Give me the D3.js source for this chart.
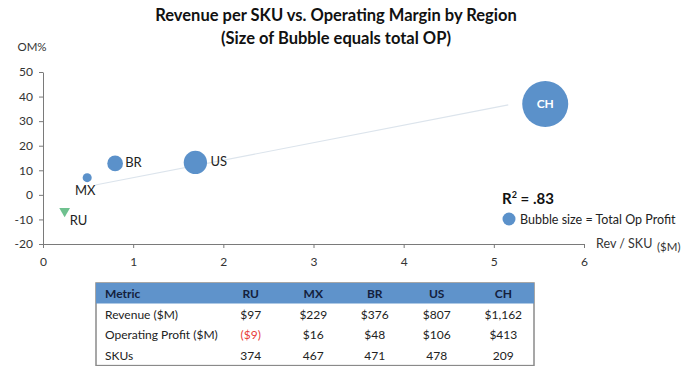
<!DOCTYPE html>
<html>
<head>
<meta charset="utf-8">
<script src="https://cdn.jsdelivr.net/npm/d3@7"></script>
<style>
  body { margin: 0; background: #fff; }
  svg { font-family: Lato, 'Open Sans', sans-serif; }
  .axis { font-family: Lato, 'Open Sans', sans-serif; }
  .axis path, .axis line { stroke: #7a7a7a; }
  .axis text { fill: #333; font-size: 12px; }
</style>
</head>
<body>
<div id="chart"></div>
<script>
// regions and table values
const regions = ['RU', 'MX', 'BR', 'US', 'CH'];
const revenue = [97, 229, 376, 807, 1162];
const opProfit = [-9, 16, 48, 106, 413];
const skus = [374, 467, 471, 478, 209];
// plotted values
const revPerSku = [0.24, 0.49, 0.8, 1.69, 5.57];
const omPct = [-7, 7, 12.8, 13.2, 37];
// trend line end points
const trendX = [0.58, 5.16];
const trendY = [4.0, 36.6];
const xTicks = [0, 1, 2, 3, 4, 5, 6];
const yTicks = [-20, -10, 0, 10, 20, 30, 40, 50];

const W = 700, H = 366;
const blue = '#5b91ca';
const green = '#6fc18f';

const svg = d3.select('#chart').append('svg')
  .attr('width', W).attr('height', H);

// scales
const x = d3.scaleLinear().domain([0, 6]).range([43, 584]);
const y = d3.scaleLinear().domain([-20, 50]).range([244, 72]);
const r = d3.scaleSqrt().domain([0, 413]).range([0, 23]);

// title
svg.append('text')
  .attr('x', 336).attr('y', 21)
  .attr('text-anchor', 'middle')
  .style('font-size', '16.5px').style('font-weight', 'bold').style('fill', '#111')
  .text('Revenue per SKU vs. Operating Margin by Region');
svg.append('text')
  .attr('x', 336).attr('y', 43.5)
  .attr('text-anchor', 'middle')
  .style('font-size', '16.5px').style('font-weight', 'bold').style('fill', '#111')
  .text('(Size of Bubble equals total OP)');

// axes
const plain = d => String(d);
svg.append('g')
  .attr('class', 'y axis')
  .attr('transform', 'translate(43,0)')
  .call(d3.axisLeft(y).tickValues(yTicks).tickFormat(plain)
    .tickSize(4).tickPadding(6).tickSizeOuter(0));

svg.append('g')
  .attr('class', 'x axis')
  .attr('transform', 'translate(0,244)')
  .call(d3.axisBottom(x).tickValues(xTicks).tickFormat(plain)
    .tickSize(4).tickPadding(9).tickSizeOuter(0));

svg.selectAll('.axis').attr('font-family', null).attr('font-size', null);

svg.append('text')
  .attr('x', 32).attr('y', 51).attr('text-anchor', 'middle')
  .style('font-size', '11.5px').style('fill', '#333')
  .text('OM%');

svg.append('text')
  .attr('x', 596).attr('y', 248)
  .style('font-size', '12.5px').style('fill', '#333')
  .text('Rev / SKU');
svg.append('text')
  .attr('x', 657).attr('y', 251)
  .style('font-size', '11.5px').style('fill', '#333')
  .text('($M)');

// trend line
svg.append('line')
  .attr('x1', x(trendX[0])).attr('y1', y(trendY[0]))
  .attr('x2', x(trendX[1])).attr('y2', y(trendY[1]))
  .attr('stroke', '#dce4ec').attr('stroke-width', 1.2);

// bubbles
const pts = regions.map((d, i) => ({
  region: d, xv: revPerSku[i], yv: omPct[i], op: opProfit[i]
}));

svg.selectAll('circle.bubble')
  .data(pts.filter(d => d.op > 0))
  .join('circle')
  .attr('class', 'bubble')
  .attr('cx', d => x(d.xv))
  .attr('cy', d => y(d.yv))
  .attr('r', d => r(d.op))
  .attr('fill', blue);

// negative profit shown as a triangle
const sym = d3.symbol().type(d3.symbolTriangle).size(50);
svg.selectAll('path.neg')
  .data(pts.filter(d => d.op <= 0))
  .join('path')
  .attr('class', 'neg')
  .attr('d', sym)
  .attr('transform', d => `translate(${x(d.xv)},${y(d.yv) - 1}) rotate(180)`)
  .attr('fill', green);

// point labels
const labelPos = {
  RU: { dx: 5, dy: 13, anchor: 'start' },
  MX: { dx: -2, dy: 17, anchor: 'middle' },
  BR: { dx: 10, dy: 4, anchor: 'start' },
  US: { dx: 15, dy: 4, anchor: 'start' },
  CH: { dx: 0, dy: 4.5, anchor: 'middle' }
};
svg.selectAll('text.plabel')
  .data(pts)
  .join('text')
  .attr('class', 'plabel')
  .attr('x', d => x(d.xv) + labelPos[d.region].dx)
  .attr('y', d => y(d.yv) + labelPos[d.region].dy)
  .attr('text-anchor', d => labelPos[d.region].anchor)
  .style('font-size', d => d.region === 'CH' ? '12px' : '13px')
  .style('font-weight', d => d.region === 'CH' ? 'bold' : 'normal')
  .style('fill', d => d.region === 'CH' ? '#fff' : '#222')
  .text(d => d.region);

// R squared + legend
const r2 = svg.append('text')
  .attr('x', 502).attr('y', 204)
  .style('font-size', '15px').style('font-weight', 'bold').style('fill', '#111');
r2.append('tspan').text('R');
r2.append('tspan').attr('dy', -6).style('font-size', '9px').text('2');
r2.append('tspan').attr('dy', 6).text(' = .83');

svg.append('circle')
  .attr('cx', 509).attr('cy', 219).attr('r', 6.5).attr('fill', blue);
svg.append('text')
  .attr('x', 520).attr('y', 223.5)
  .style('font-size', '12.5px').style('fill', '#222')
  .text('Bubble size = Total Op Profit');

// table
const tLeft = 96, tRight = 534, tTop = 283, headH = 20.5, rowH = 20.7;
const colX = [250.7, 313.3, 374.7, 436.7, 503.3];
const money = d3.format('$,');
const rows = [
  { label: 'Revenue ($M)', vals: revenue.map(v => money(v)) },
  { label: 'Operating Profit ($M)', vals: opProfit.map(v => v < 0 ? `(${money(-v)})` : money(v)), neg: opProfit.map(v => v < 0) },
  { label: 'SKUs', vals: skus.map(String) }
];

const table = svg.append('g').attr('class', 'table');
table.append('rect')
  .attr('x', tLeft).attr('y', tTop)
  .attr('width', tRight - tLeft).attr('height', headH + rowH * rows.length)
  .attr('fill', '#fff').attr('stroke', '#8a8a8a').attr('stroke-width', 1.5);
table.append('rect')
  .attr('x', tLeft).attr('y', tTop)
  .attr('width', tRight - tLeft).attr('height', headH)
  .attr('fill', '#5f93cb');

table.append('text')
  .attr('x', 105).attr('y', tTop + 15)
  .style('font-size', '12px').style('font-weight', 'bold').style('fill', '#14213d')
  .text('Metric');
table.selectAll('text.colhead')
  .data(regions)
  .join('text')
  .attr('class', 'colhead')
  .attr('x', (d, i) => colX[i]).attr('y', tTop + 15)
  .attr('text-anchor', 'middle')
  .style('font-size', '12px').style('font-weight', 'bold').style('fill', '#14213d')
  .text(d => d);

rows.forEach((row, ri) => {
  const yy = tTop + headH + rowH * ri + 15;
  table.append('text')
    .attr('x', 105).attr('y', yy)
    .style('font-size', '12px').style('fill', '#222')
    .text(row.label);
  table.selectAll(`text.cell${ri}`)
    .data(row.vals)
    .join('text')
    .attr('class', `cell${ri}`)
    .attr('x', (d, i) => colX[i]).attr('y', yy)
    .attr('text-anchor', 'middle')
    .style('font-size', '12px')
    .style('fill', (d, i) => row.neg && row.neg[i] ? '#e8403a' : '#222')
    .text(d => d);
});
</script>
</body>
</html>
